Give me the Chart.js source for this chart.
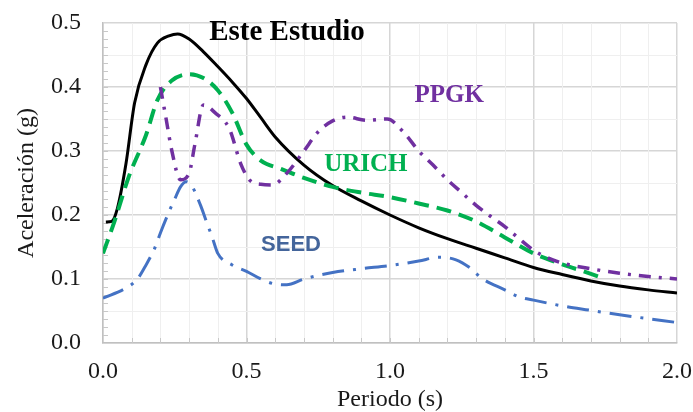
<!DOCTYPE html>
<html>
<head>
<meta charset="utf-8">
<script src="https://cdn.jsdelivr.net/npm/chart.js@4.4.1/dist/chart.umd.min.js"></script>
<style>
  html, body { margin: 0; padding: 0; background: #fff; }
  #wrap { width: 693px; height: 412px; }
</style>
</head>
<body>
<div id="wrap"><canvas id="chart"></canvas></div>
<script>
// Este Estudio (black solid)
const esteX = [0.01, 0.03, 0.05, 0.08, 0.11, 0.15, 0.19, 0.23, 0.26, 0.3, 0.35, 0.4, 0.45, 0.5, 0.55, 0.6, 0.7, 0.8, 0.9, 1.0, 1.1, 1.2, 1.3, 1.4, 1.5, 1.6, 1.7, 1.8, 1.9, 2.0];
const esteY = [0.189, 0.19, 0.21, 0.28, 0.375, 0.435, 0.469, 0.48, 0.483, 0.475, 0.455, 0.432, 0.408, 0.382, 0.352, 0.322, 0.278, 0.246, 0.222, 0.2, 0.18, 0.163, 0.148, 0.133, 0.118, 0.107, 0.097, 0.089, 0.083, 0.078];

// URICH (green dashed)
const urichX = [0, 0.04, 0.09, 0.15, 0.19, 0.24, 0.3, 0.35, 0.4, 0.45, 0.5, 0.55, 0.62, 0.7, 0.8, 0.9, 1.0, 1.1, 1.2, 1.3, 1.4, 1.5, 1.6, 1.7, 1.75];
const urichY = [0.14, 0.19, 0.26, 0.325, 0.38, 0.41, 0.42, 0.414, 0.395, 0.36, 0.31, 0.285, 0.272, 0.258, 0.244, 0.235, 0.228, 0.218, 0.207, 0.19, 0.165, 0.14, 0.123, 0.108, 0.1];

// PPGK (purple dash-dot)
const ppgkX = [0.2, 0.22, 0.24, 0.27, 0.3, 0.32, 0.35, 0.39, 0.44, 0.48, 0.51, 0.55, 0.59, 0.64, 0.7, 0.75, 0.8, 0.85, 0.92, 0.99, 1.05, 1.1, 1.15, 1.2, 1.25, 1.3, 1.35, 1.4, 1.45, 1.5, 1.55, 1.6, 1.7, 1.8, 1.9, 2.0];
const ppgkY = [0.4, 0.35, 0.3, 0.255, 0.265, 0.31, 0.372, 0.36, 0.335, 0.28, 0.255, 0.248, 0.247, 0.265, 0.3, 0.33, 0.347, 0.353, 0.348, 0.35, 0.328, 0.3, 0.278, 0.255, 0.235, 0.215, 0.198, 0.182, 0.163, 0.145, 0.133, 0.125, 0.116, 0.109, 0.104, 0.1];

// SEED (blue long dash-dot)
const seedX = [0, 0.08, 0.12, 0.15, 0.18, 0.2, 0.23, 0.25, 0.27, 0.29, 0.31, 0.34, 0.36, 0.38, 0.4, 0.45, 0.5, 0.55, 0.6, 0.64, 0.7, 0.8, 0.9, 1.0, 1.1, 1.17, 1.23, 1.28, 1.32, 1.4, 1.45, 1.5, 1.6, 1.7, 1.8, 1.9, 2.0];
const seedY = [0.07, 0.086, 0.1, 0.122, 0.148, 0.172, 0.205, 0.225, 0.244, 0.252, 0.245, 0.215, 0.19, 0.166, 0.14, 0.122, 0.112, 0.1, 0.092, 0.091, 0.1, 0.11, 0.116, 0.121, 0.128, 0.134, 0.13, 0.117, 0.101, 0.083, 0.072, 0.067, 0.058, 0.051, 0.044, 0.038, 0.032];

// curve labels drawn in data coordinates
const labelNames = ['Este Estudio', 'PPGK', 'URICH', 'SEED'];
const labelX = [0.641, 1.206, 0.916, 0.655];
const labelY = [0.485, 0.387, 0.279, 0.153];

const xTicks = [0, 0.5, 1.0, 1.5, 2.0];
const yTicks = [0, 0.1, 0.2, 0.3, 0.4, 0.5];

const labelStyle = [
    { color: '#000000', font: 'bold 29px "Liberation Serif"' },
    { color: '#7030a0', font: 'bold 25px "Liberation Serif"' },
    { color: '#00b050', font: 'bold 25px "Liberation Serif"' },
    { color: '#44659b', font: 'bold 22px "Liberation Sans"' }
];

const toPoints = (xs, ys) => xs.map((x, i) => ({ x: x, y: ys[i] }));

// faint minor grid and inward minor ticks
const minorGrid = {
    id: 'minorGrid',
    beforeDatasetsDraw(chart) {
        const { ctx, chartArea: a, scales: { x, y } } = chart;
        ctx.save();
        ctx.strokeStyle = '#efefef';
        ctx.lineWidth = 1;
        for (let i = 1; i < 20; i++) {
            if (i % 5 === 0) continue;
            const px = Math.round(x.getPixelForValue(i / 10)) + 0.5;
            ctx.beginPath(); ctx.moveTo(px, a.top); ctx.lineTo(px, a.bottom); ctx.stroke();
        }
        for (let i = 1; i < 10; i++) {
            if (i % 2 === 0) continue;
            const py = Math.round(y.getPixelForValue(i / 20)) + 0.5;
            ctx.beginPath(); ctx.moveTo(a.left, py); ctx.lineTo(a.right, py); ctx.stroke();
        }
        ctx.strokeStyle = '#c8c8c8';
        for (let i = 1; i < 20; i++) {
            const px = Math.round(x.getPixelForValue(i / 10)) + 0.5;
            ctx.beginPath(); ctx.moveTo(px, a.bottom); ctx.lineTo(px, a.bottom - 5); ctx.stroke();
        }
        for (let i = 1; i < 40; i++) {
            const py = Math.round(y.getPixelForValue(i * 0.0125)) + 0.5;
            ctx.beginPath(); ctx.moveTo(a.left, py); ctx.lineTo(a.left + 5, py); ctx.stroke();
        }
        ctx.restore();
    }
};

const curveLabels = {
    id: 'curveLabels',
    afterDatasetsDraw(chart) {
        const { ctx, scales: { x, y } } = chart;
        ctx.save();
        ctx.textAlign = 'center';
        ctx.textBaseline = 'middle';
        labelNames.forEach((name, i) => {
            ctx.fillStyle = labelStyle[i].color;
            ctx.font = labelStyle[i].font;
            ctx.fillText(name, x.getPixelForValue(labelX[i]), y.getPixelForValue(labelY[i]));
        });
        ctx.restore();
    }
};

const tickFont = { family: '"Liberation Serif", "Times New Roman", serif', size: 24 };

new Chart(document.getElementById('chart'), {
    type: 'line',
    data: {
        datasets: [
            {
                label: 'SEED',
                data: toPoints(seedX, seedY),
                borderColor: '#4472c4',
                borderWidth: 3,
                borderDash: [22, 9, 3, 9]
            },
            {
                label: 'PPGK',
                data: toPoints(ppgkX, ppgkY),
                borderColor: '#7030a0',
                borderWidth: 3.5,
                borderDash: [12, 8, 3, 8]
            },
            {
                label: 'URICH',
                data: toPoints(urichX, urichY),
                borderColor: '#00b050',
                borderWidth: 4,
                borderDash: [15, 8]
            },
            {
                label: 'Este Estudio',
                data: toPoints(esteX, esteY),
                borderColor: '#000000',
                borderWidth: 3
            }
        ]
    },
    options: {
        responsive: true,
        maintainAspectRatio: false,
        animation: false,
        layout: { padding: { top: 23, right: 16, left: 0, bottom: 0 } },
        elements: {
            point: { radius: 0 },
            line: { cubicInterpolationMode: 'monotone', fill: false }
        },
        plugins: {
            legend: { display: false },
            tooltip: { enabled: false }
        },
        scales: {
            x: {
                type: 'linear',
                min: 0,
                max: 2,
                afterBuildTicks: scale => { scale.ticks = xTicks.map(v => ({ value: v })); },
                afterFit: scale => {
                    scale.height = 69;
                    scale.paddingLeft = 0;
                    scale.paddingRight = 0;
                },
                ticks: {
                    color: '#1a1a1a',
                    font: tickFont,
                    padding: 14,
                    callback: v => Number(v).toFixed(1)
                },
                grid: { color: '#d6d6d6', lineWidth: 1.5, drawTicks: false },
                border: { color: '#c0c0c0', width: 1.5 },
                title: {
                    display: true,
                    text: 'Periodo (s)',
                    color: '#1a1a1a',
                    font: { ...tickFont, lineHeight: 1 },
                    padding: { top: 0, bottom: 0 }
                }
            },
            y: {
                min: 0,
                max: 0.5,
                afterBuildTicks: scale => { scale.ticks = yTicks.map(v => ({ value: v })); },
                afterFit: scale => {
                    scale.width = 103;
                    scale.paddingTop = 0;
                    scale.paddingBottom = 0;
                },
                ticks: {
                    color: '#1a1a1a',
                    font: tickFont,
                    padding: 22,
                    callback: v => Number(v).toFixed(1)
                },
                grid: { color: '#d6d6d6', lineWidth: 1.5, drawTicks: false },
                border: { color: '#c0c0c0', width: 1.5 },
                title: {
                    display: true,
                    text: 'Aceleración (g)',
                    color: '#1a1a1a',
                    font: { ...tickFont, lineHeight: 1 },
                    padding: { top: 15, bottom: 0 }
                }
            }
        }
    },
    plugins: [minorGrid, curveLabels]
});
</script>
</body>
</html>
